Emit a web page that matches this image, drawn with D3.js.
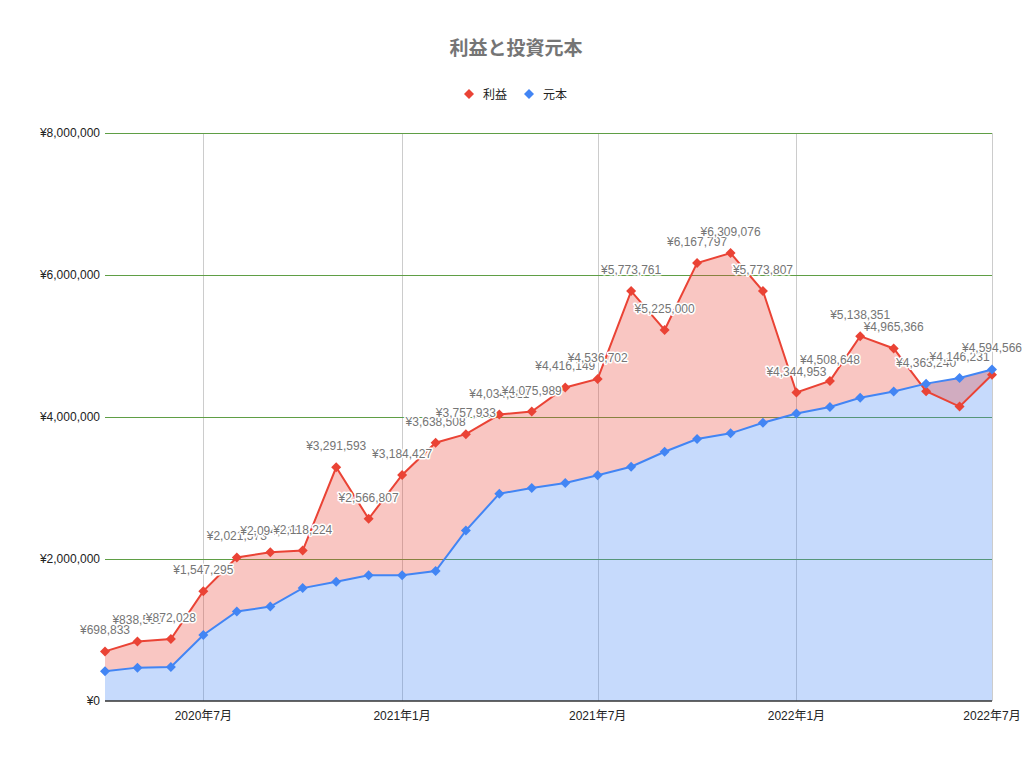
<!DOCTYPE html>
<html>
<head>
<meta charset="utf-8">
<script src="https://cdn.jsdelivr.net/npm/d3@7"></script>
<style>
  body { margin: 0; background: #fff; }
  svg text { font-family: "Liberation Sans", Arial, "Noto Sans CJK JP", sans-serif; }
</style>
</head>
<body>
<svg id="chart" width="1030" height="760"></svg>
<script>
// months (first day of each month)
const months = ["2020-04","2020-05","2020-06","2020-07","2020-08","2020-09","2020-10","2020-11","2020-12",
  "2021-01","2021-02","2021-03","2021-04","2021-05","2021-06","2021-07","2021-08","2021-09","2021-10","2021-11","2021-12",
  "2022-01","2022-02","2022-03","2022-04","2022-05","2022-06","2022-07"];

// 利益
const profit = [698833, 838560, 872028, 1547295, 2021573, 2094615, 2118224, 3291593, 2566807,
  3184427, 3638508, 3757933, 4034321, 4075989, 4416149, 4536702, 5773761, 5225000, 6167797, 6309076, 5773807,
  4344953, 4508648, 5138351, 4965366, 4363240, 4146231, 4594566];

// 元本
const principal = [420000, 470000, 480000, 930000, 1260000, 1330000, 1590000, 1680000, 1770000,
  1770000, 1830000, 2400000, 2920000, 3000000, 3070000, 3180000, 3300000, 3510000, 3690000, 3770000, 3920000,
  4050000, 4140000, 4270000, 4360000, 4470000, 4550000, 4670000];

const xTicks = ["2020-07", "2021-01", "2021-07", "2022-01", "2022-07"];
const yTicks = [0, 2000000, 4000000, 6000000, 8000000];

const seriesNames = ["利益", "元本"];
const seriesColors = ["#ea4335", "#4285f4"];

const parseMonth = d3.timeParse("%Y-%m");
const data = months.map((m, i) => ({date: parseMonth(m), profit: profit[i], principal: principal[i]}));

const svg = d3.select("#chart");
const plot = {left: 105, right: 992, top: 133, bottom: 701};

const x = d3.scaleTime()
    .domain([parseMonth(months[0]), parseMonth(months[months.length - 1])])
    .range([plot.left, plot.right]);

const y = d3.scaleLinear()
    .domain([0, 8000000])
    .range([plot.bottom, plot.top]);

// title
svg.append("text")
    .attr("x", 516).attr("y", 55)
    .attr("text-anchor", "middle")
    .attr("font-size", 19).attr("font-weight", "bold")
    .attr("fill", "#757575")
    .text("利益と投資元本");

// legend
const legendPos = [469, 529];
seriesNames.forEach((name, i) => {
  svg.append("path")
      .attr("d", d3.symbol(d3.symbolSquare, 50)())
      .attr("transform", "translate(" + legendPos[i] + ",94) rotate(45)")
      .attr("fill", seriesColors[i]);
  svg.append("text")
      .attr("x", legendPos[i] + 14).attr("y", 98.5)
      .attr("font-size", 12).attr("fill", "#222")
      .text(name);
});

// gridlines
svg.append("g").selectAll("line")
  .data(xTicks.map(parseMonth))
  .join("line")
    .attr("x1", d => Math.round(x(d)) + 0.5).attr("x2", d => Math.round(x(d)) + 0.5)
    .attr("y1", plot.top).attr("y2", plot.bottom)
    .attr("stroke", "#cccccc").attr("stroke-width", 1);

svg.append("g").selectAll("line")
  .data(yTicks.filter(v => v > 0))
  .join("line")
    .attr("x1", plot.left).attr("x2", plot.right)
    .attr("y1", d => Math.round(y(d)) + 0.5).attr("y2", d => Math.round(y(d)) + 0.5)
    .attr("stroke", "#5f9e45").attr("stroke-width", 1);

// areas: 元本 from baseline, 利益 as band between 元本 and 利益
svg.append("path")
    .datum(data)
    .attr("fill", seriesColors[1]).attr("fill-opacity", 0.3)
    .attr("d", d3.area()
        .x(d => x(d.date))
        .y0(y(0))
        .y1(d => y(d.principal)));

svg.append("path")
    .datum(data)
    .attr("fill", seriesColors[0]).attr("fill-opacity", 0.3)
    .attr("d", d3.area()
        .x(d => x(d.date))
        .y0(d => y(d.principal))
        .y1(d => y(d.profit)));

// baseline
svg.append("line")
    .attr("x1", plot.left).attr("x2", plot.right)
    .attr("y1", y(0)).attr("y2", y(0))
    .attr("stroke", "#333").attr("stroke-width", 1.5);

// lines and markers
const keys = ["profit", "principal"];
keys.forEach((k, i) => {
  svg.append("path")
      .datum(data)
      .attr("fill", "none")
      .attr("stroke", seriesColors[i])
      .attr("stroke-width", 2)
      .attr("d", d3.line().x(d => x(d.date)).y(d => y(d[k])));
});
keys.forEach((k, i) => {
  svg.append("g").selectAll("path")
    .data(data)
    .join("path")
      .attr("d", d3.symbol(d3.symbolSquare, 50)())
      .attr("transform", d => "translate(" + x(d.date) + "," + y(d[k]) + ") rotate(45)")
      .attr("fill", seriesColors[i]);
});

// y axis labels
svg.append("g").selectAll("text")
  .data(yTicks)
  .join("text")
    .attr("x", 100).attr("y", d => y(d) + 4)
    .attr("text-anchor", "end")
    .attr("font-size", 12).attr("fill", "#222")
    .text(d => "¥" + d3.format(",")(d));

// x axis labels
svg.append("g").selectAll("text")
  .data(xTicks.map(parseMonth))
  .join("text")
    .attr("x", d => x(d)).attr("y", 720)
    .attr("text-anchor", "middle")
    .attr("font-size", 12).attr("fill", "#222")
    .text(d3.timeFormat("%Y年%-m月"));

// data labels for 利益 (placed above whichever series is higher at that month)
const labels = svg.append("g");
data.forEach(d => {
  labels.append("text")
      .attr("x", x(d.date)).attr("y", y(Math.max(d.profit, d.principal)) - 17)
      .attr("text-anchor", "middle")
      .attr("font-size", 12)
      .attr("fill", "#757575")
      .attr("stroke", "#fff").attr("stroke-width", 3)
      .attr("stroke-linejoin", "round")
      .attr("paint-order", "stroke")
      .text("¥" + d3.format(",")(d.profit));
});
</script>
</body>
</html>
